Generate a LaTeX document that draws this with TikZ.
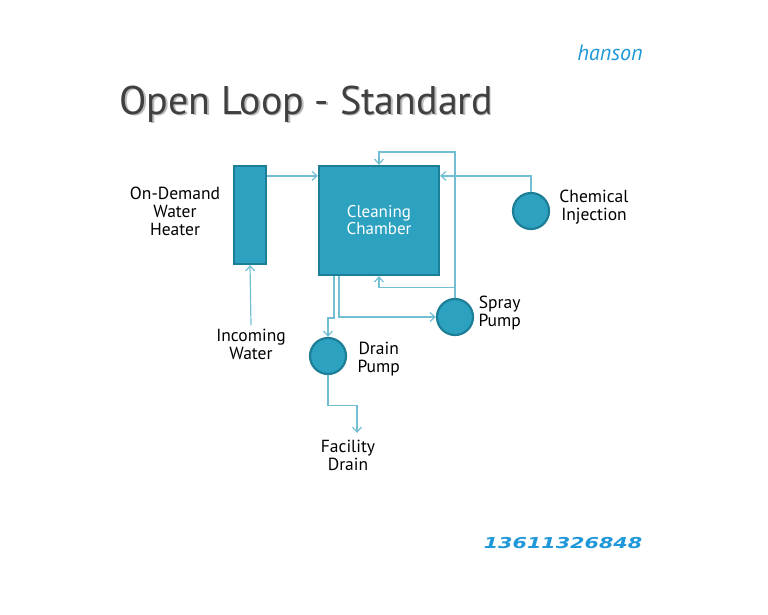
\documentclass[tikz,border=0pt]{standalone}
\usepackage{fontspec}
\setmainfont{PT Sans}
\newfontfamily\markfont{DejaVu Sans}
\usetikzlibrary{arrows.meta,positioning}
\definecolor{unitfill}{HTML}{2DA2C0}
\definecolor{unitedge}{HTML}{1D7E97}
\definecolor{pipeblue}{HTML}{72BFD4}
\definecolor{titlegray}{HTML}{404040}
\definecolor{markblue}{HTML}{1E98D8}

\begin{document}
\begin{tikzpicture}[x=1pt,y=-1pt,
      unit/.style={draw=unitedge,line width=2.2pt,fill=unitfill,inner sep=0pt},
      pump/.style={circle,draw=unitedge,line width=2.2pt,fill=unitfill,
                   minimum size=36pt,inner sep=0pt},
      lbl/.style={align=center,font=\fontsize{17.5}{18}\selectfont,text=black},
      pipe/.style={draw=pipeblue,line width=1.2pt},
      >={Straight Barb[length=5pt,width=9pt]}]
    \useasboundingbox[fill=white] (0,0) rectangle (768,614);
    \node[text=titlegray!35,anchor=west,font=\fontsize{40}{44}\selectfont] at (117.5,105.5) {Open Loop - Standard};
    \node[text=titlegray,anchor=west,font=\fontsize{40}{44}\selectfont] (title) at (116,104) {Open Loop - Standard};
    \node[text=markblue,font=\fontsize{22}{24}\selectfont\itshape] (mark) at (610,53) {hanson};
    \node[text=markblue,font=\fontsize{15}{20}\markfont\bfseries\itshape,xscale=1.38,transform shape] (phone) at (563,543) {13611326848};
    \node[unit,minimum width=32pt,minimum height=98pt] (heater) at (250,215) {};
    \node[unit,minimum width=120pt,minimum height=109pt,text=white,align=center,
          font=\fontsize{17}{17}\selectfont] (chamber) at (379,220.5) {Cleaning\\Chamber};
    \node[pump] (chem)  at (531,211) {};
    \node[pump] (spray) at (455,317) {};
    \node[pump] (drain) at (328,356) {};
    \node[lbl] (heaterlbl) at (175,211) {On-Demand\\Water\\Heater};
    \node[lbl] (water) at (251,344) {Incoming\\Water};
    \node[lbl] (chemlbl) at (594,207) {Chemical\\Injection};
    \node[lbl,anchor=west] (spraylbl) at (475,313) {Spray\\Pump};
    \node[lbl,anchor=west] (drainlbl) at (354,359) {Drain\\Pump};
    \node[lbl] (facility) at (348,455) {Facility\\Drain};
    \coordinate (outfall) at (357,433);
    \draw[pipe,->] (water.north) -- (heater.south);
    \draw[pipe,->] ([yshift=-11pt]heater.north east) -- ([yshift=-11pt]chamber.north west);
    \draw[pipe,->] (chem.north) |- ([yshift=-11pt]chamber.north east);
    \draw[pipe,->] (spray.north) |- ([yshift=13pt]chamber.north) -- (chamber.north);
    \draw[pipe,->] (spray.north) |- ([yshift=-11pt]chamber.south) -- (chamber.south);
    \draw[pipe,->] ([xshift=21pt]chamber.south west) |- (spray.west);
    \draw[pipe,->] ([xshift=16pt]chamber.south west) |- ([yshift=19pt]drain.north) -- (drain.north);
    \draw[pipe,->] (drain.south) -- ++(0,30) -| (outfall);
  \end{tikzpicture}
\end{document}
